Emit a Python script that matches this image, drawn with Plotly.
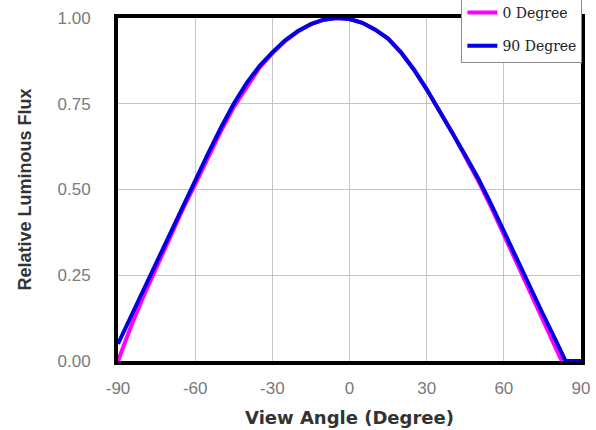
import plotly.graph_objects as go

angles = [-90, -85, -80, -75, -70, -65, -60, -55, -50, -45, -40, -35, -30, -25, -20, -15,
          -10, -5, 0, 5, 10, 15, 20, 25, 30, 35, 40, 45, 50, 55, 60, 65, 70, 75, 80]

deg0_x = angles + [82.5]
deg0_y = [0.0, 0.10, 0.19, 0.275, 0.36, 0.44, 0.515, 0.595, 0.67, 0.74, 0.80, 0.855, 0.897,
          0.933, 0.961, 0.982, 0.995, 1.0, 0.997, 0.986, 0.966, 0.94, 0.90, 0.85, 0.792, 0.73,
          0.665, 0.595, 0.526, 0.45, 0.368, 0.287, 0.205, 0.123, 0.043, 0.0]

deg90_x = angles + [84, 90]
deg90_y = [0.05, 0.13, 0.21, 0.29, 0.37, 0.45, 0.525, 0.605, 0.68, 0.75, 0.81, 0.86, 0.90,
           0.935, 0.962, 0.982, 0.995, 1.0, 0.997, 0.986, 0.966, 0.94, 0.90, 0.85, 0.792, 0.73,
           0.665, 0.60, 0.533, 0.458, 0.377, 0.298, 0.218, 0.14, 0.063, 0.0, 0.0]

x_ticks = [-90, -60, -30, 0, 30, 60, 90]
y_ticks = [0.0, 0.25, 0.5, 0.75, 1.0]
y_labels = ["0.00", "0.25", "0.50", "0.75", "1.00"]

fig = go.Figure()
fig.add_trace(go.Scatter(x=deg0_x, y=deg0_y, mode="lines", name="0 Degree",
                         line=dict(color="#ff00ff", width=4), legendgroup="a",
                         cliponaxis=False))
fig.add_trace(go.Scatter(x=deg90_x, y=deg90_y, mode="lines", name="90 Degree",
                         line=dict(color="#0000e0", width=4), legendgroup="b",
                         cliponaxis=False))

fig.update_layout(
    width=596, height=430,
    margin=dict(l=118, r=15, t=18, b=69, autoexpand=False),
    paper_bgcolor="white", plot_bgcolor="white",
    showlegend=True,
    legend=dict(x=1.003, xanchor="right", y=0.869, yanchor="bottom",
                bgcolor="white", bordercolor="#8a8a8a", borderwidth=1,
                font=dict(family="DejaVu Serif", size=14, color="#222"),
                traceorder="grouped", tracegroupgap=12),
    xaxis=dict(range=[-90, 90], tickvals=x_ticks, ticktext=[str(v) for v in x_ticks],
               showgrid=True, gridcolor="#c4c4c4", gridwidth=1, zeroline=False,
               showline=True, linecolor="black", linewidth=4, mirror=True,
               ticks="", ticklabelstandoff=9,
               tickfont=dict(family="Liberation Sans", size=17, color="#7a7a7a"),
               title=dict(text="View Angle (Degree)", standoff=15,
                          font=dict(family="DejaVu Sans", size=18, color="#333", weight="bold"))),
    yaxis=dict(range=[0, 1], tickvals=y_ticks, ticktext=y_labels,
               showgrid=True, gridcolor="#c4c4c4", gridwidth=1, zeroline=False,
               showline=True, linecolor="black", linewidth=4, mirror=True,
               ticks="", ticklabelstandoff=20,
               tickfont=dict(family="Liberation Sans", size=17, color="#7a7a7a"),
               title=dict(text="Relative Luminous Flux", standoff=22,
                          font=dict(family="Liberation Sans", size=18, color="#333", weight="bold"))),
)

fig.write_html("out.html")
